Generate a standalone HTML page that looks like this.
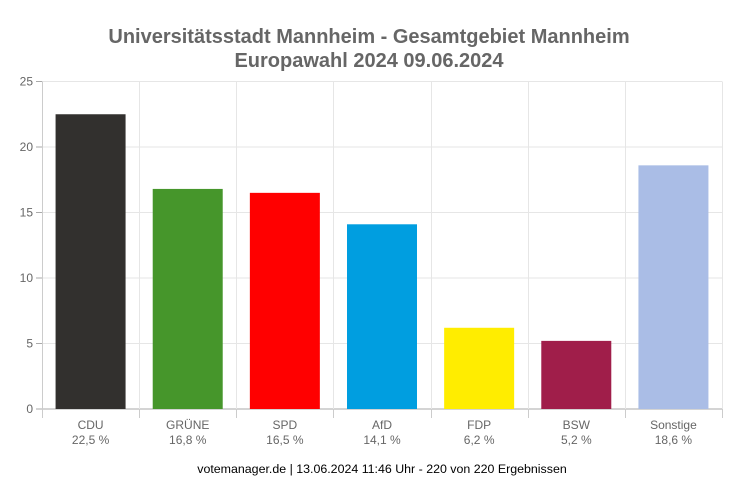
<!DOCTYPE html>
<html><head><meta charset="utf-8"><style>
body{margin:0;background:#fff;}
svg text{font-family:"Liberation Sans",sans-serif;}
</style></head><body>
<svg id="c" width="739" height="496">
<text x="369" y="43" text-anchor="middle" font-size="20" font-weight="bold" fill="#666">Universitätsstadt Mannheim - Gesamtgebiet Mannheim</text>
<text x="369" y="67" text-anchor="middle" font-size="20" font-weight="bold" fill="#666">Europawahl 2024 09.06.2024</text>
<text x="382" y="473" text-anchor="middle" font-size="12.4" fill="#000">votemanager.de | 13.06.2024 11:46 Uhr - 220 von 220 Ergebnissen</text>
<g id="grid"></g><g id="bars"></g><g id="axes"></g>
</svg>
<script>
const categories=["CDU","GRÜNE","SPD","AfD","FDP","BSW","Sonstige"];
const values=[22.5,16.8,16.5,14.1,6.2,5.2,18.6];
const valueLabels=["22,5 %","16,8 %","16,5 %","14,1 %","6,2 %","5,2 %","18,6 %"];
const colors=["#32302e","#46962b","#ff0000","#009ee0","#ffed00","#a01e4a","#aabde6"];
const yTicks=[0,5,10,15,20,25];
const NS="http://www.w3.org/2000/svg";
const L=42,R=722,T=81.5,B=409,YMAX=25;
const y=v=>B-(v/YMAX)*(B-T);
const bw=(R-L)/categories.length;
const x=i=>L+i*bw;
function mk(tag,attrs,parent){const e=document.createElementNS(NS,tag);for(const k in attrs)e.setAttribute(k,attrs[k]);document.getElementById(parent).appendChild(e);return e;}
yTicks.forEach(t=>{
  const g=mk('line',{x1:L,x2:R,y1:y(t),y2:y(t),stroke:t===0?'#aaa':'#e6e6e6','stroke-width':1},'grid');
  
  
  mk('line',{x1:L-6,x2:L,y1:y(t),y2:y(t),stroke:'#aaa'},'axes');
  const tx=mk('text',{x:L-9,y:y(t)+4,'text-anchor':'end','font-size':12,fill:'#666'},'axes');
  tx.textContent=t;
  
  
});
for(let i=0;i<=categories.length;i++){
  const xx=Math.round(x(i))+0.5;
  mk('line',{x1:xx,x2:xx,y1:T,y2:B,stroke:'#e6e6e6'},'grid');
  mk('line',{x1:xx,x2:xx,y1:B,y2:B+9,stroke:'#ccc'},'axes');
}
mk('line',{x1:L+0.5,x2:L+0.5,y1:T,y2:B,stroke:'#ccc'},'axes');
categories.forEach((c,i)=>{
  const cx=x(i)+bw/2,w=70;
  const r=mk('rect',{x:cx-w/2,y:y(values[i]),width:w,height:B-y(values[i]),fill:colors[i]},'bars');
  
  
  const t1=mk('text',{x:cx,y:B+20,'text-anchor':'middle','font-size':12,fill:'#666'},'axes');
  t1.textContent=c;
  
  
  const t2=mk('text',{x:cx,y:B+35,'text-anchor':'middle','font-size':12,fill:'#666'},'axes');
  t2.textContent=valueLabels[i];
  
  
});
</script>
</body></html>
